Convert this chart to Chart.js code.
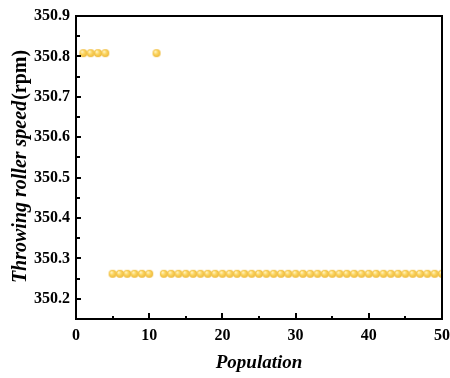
<!DOCTYPE html>
<html><head><meta charset="utf-8">
<script src="https://cdn.jsdelivr.net/npm/chart.js@4/dist/chart.umd.min.js"></script>
<style>html,body{margin:0;padding:0;background:#fff}#wrap{width:450px;height:378px}</style>
</head><body><div id="wrap"><canvas id="c" width="450" height="378"></canvas></div>
<script>
const population = [1,2,3,4,5,6,7,8,9,10,11,12,13,14,15,16,17,18,19,20,21,22,23,24,25,26,27,28,29,30,31,32,33,34,35,36,37,38,39,40,41,42,43,44,45,46,47,48,49,50];
const speed = [350.808,350.808,350.808,350.808,350.262,350.262,350.262,350.262,350.262,350.262,350.808,350.262,350.262,350.262,350.262,350.262,350.262,350.262,350.262,350.262,350.262,350.262,350.262,350.262,350.262,350.262,350.262,350.262,350.262,350.262,350.262,350.262,350.262,350.262,350.262,350.262,350.262,350.262,350.262,350.262,350.262,350.262,350.262,350.262,350.262,350.262,350.262,350.262,350.262,350.262];
const xTicks = [0,10,20,30,40,50];
const xMinorTicks = [5,15,25,35,45];
const yTicks = [350.2,350.3,350.4,350.5,350.6,350.7,350.8,350.9];
const yMinorTicks = [350.25,350.35,350.45,350.55,350.65,350.75,350.85];
const xTitle = 'Population';
const yTitleItalic = 'Throwing roller speed';
const yTitleUnit = '(rpm)';

// sphere-like point image
function makeBall(r){
  const s = r*2+2, cv = document.createElement('canvas');
  cv.width = s; cv.height = s;
  const g = cv.getContext('2d');
  const cx = s/2, cy = s/2;
  const grd = g.createRadialGradient(cx-r*0.35, cy-r*0.4, r*0.1, cx, cy, r);
  grd.addColorStop(0, '#FFF3C4');
  grd.addColorStop(0.45, '#FCD660');
  grd.addColorStop(1, '#EDB83A');
  g.fillStyle = grd;
  g.beginPath(); g.arc(cx, cy, r, 0, Math.PI*2); g.fill();
  return cv;
}
const ball = makeBall(4);

const serif = '"Liberation Serif", "Times New Roman", serif';

const decor = {
  id: 'decor',
  afterDraw(chart){
    const ctx = chart.ctx, a = chart.chartArea;
    const xs = chart.scales.x, ys = chart.scales.y;
    ctx.save();
    ctx.strokeStyle = '#000';
    ctx.lineWidth = 2;
    ctx.beginPath();
    ctx.rect(a.left, a.top, a.right - a.left, a.bottom - a.top);
    ctx.stroke();
    ctx.lineWidth = 2;
    ctx.beginPath();
    yTicks.forEach(v => { const y = Math.round(ys.getPixelForValue(v)); ctx.moveTo(a.left, y); ctx.lineTo(a.left + 5, y); });
    yMinorTicks.forEach(v => { const y = Math.round(ys.getPixelForValue(v)); ctx.moveTo(a.left, y); ctx.lineTo(a.left + 4, y); });
    xTicks.forEach(v => { const x = Math.round(xs.getPixelForValue(v)); ctx.moveTo(x, a.bottom); ctx.lineTo(x, a.bottom - 6); });
    xMinorTicks.forEach(v => { const x = Math.round(xs.getPixelForValue(v)); ctx.moveTo(x, a.bottom); ctx.lineTo(x, a.bottom - 3); });
    ctx.stroke();
    // x title
    ctx.fillStyle = '#000';
    ctx.font = 'italic bold 19px ' + serif;
    ctx.textAlign = 'center'; ctx.textBaseline = 'middle';
    ctx.fillText(xTitle, (a.left + a.right)/2, 363);
    // y title (mixed style)
    ctx.translate(21, 167);
    ctx.rotate(-Math.PI/2);
    ctx.font = 'italic bold 20px ' + serif;
    const w1 = ctx.measureText(yTitleItalic).width;
    ctx.font = 'bold 20px ' + serif;
    const w2 = ctx.measureText(yTitleUnit).width;
    let sx = -(w1 + w2)/2;
    ctx.textAlign = 'left';
    ctx.font = 'italic bold 20px ' + serif;
    ctx.fillText(yTitleItalic, sx, 0);
    ctx.font = 'bold 20px ' + serif;
    ctx.fillText(yTitleUnit, sx + w1 + 1, 0);
    ctx.restore();
  }
};

new Chart(document.getElementById('c'), {
  type: 'scatter',
  data: {
    datasets: [{
      data: population.map((x, i) => ({x: x, y: speed[i]})),
      pointStyle: ball,
      pointRadius: 4,
      pointHoverRadius: 4
    }]
  },
  options: {
    responsive: false,
    animation: false,
    devicePixelRatio: 1,
    layout: { padding: { left: 0, top: 16, right: 8, bottom: 0 } },
    plugins: { legend: { display: false }, tooltip: { enabled: false } },
    scales: {
      x: {
        type: 'linear', min: 0, max: 50,
        afterFit(s){ s.height = 59; s.paddingLeft = 0; s.paddingRight = 0; },
        afterBuildTicks(s){ s.ticks = xTicks.map(v => ({value: v})); },
        grid: { display: false, drawTicks: false },
        border: { display: false },
        ticks: { color: '#000', padding: 7, maxRotation: 0, font: { family: serif, size: 16, weight: 'bold' } }
      },
      y: {
        type: 'linear', min: 350.15, max: 350.9,
        afterFit(s){ s.width = 76; s.paddingTop = 0; s.paddingBottom = 0; },
        afterBuildTicks(s){ s.ticks = yTicks.map(v => ({value: v})); },
        grid: { display: false, drawTicks: false },
        border: { display: false },
        ticks: { color: '#000', padding: 6, callback: v => Number(v).toFixed(1), font: { family: serif, size: 16, weight: 'bold' } }
      }
    }
  },
  plugins: [decor]
});
</script>
</body></html>
